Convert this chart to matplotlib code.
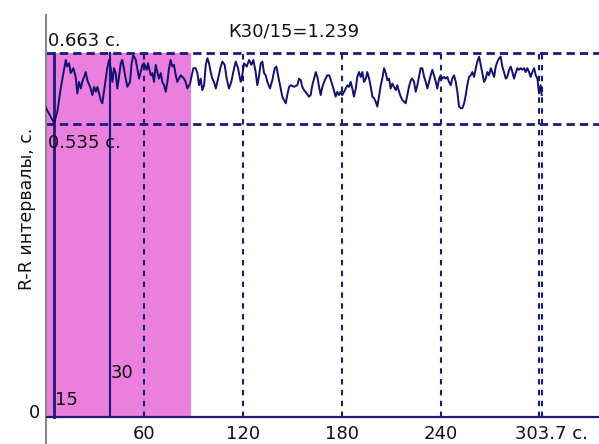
import matplotlib
matplotlib.use("Agg")
import matplotlib.pyplot as plt

# R-R intervals (s), with time (s)
t = [0.0, 5.2, 7.2, 9.2, 11.2, 12.3, 13.2, 14.3, 15.3, 16.9, 18.3, 19.3, 20.3, 21.4, 22.3,
     23.4, 24.4, 25.4, 27.4, 28.4, 29.5, 30.5, 31.5, 33.5, 34.5, 35.5, 36.6, 37.5, 38.6,
     39.6, 40.6, 41.6, 42.6, 43.6, 44.6, 45.7, 46.6, 47.7, 48.7, 49.7, 51.3, 52.3, 53.3,
     54.8, 56.8, 58.8, 59.8, 61.5, 62.2, 63.9, 64.9, 65.9, 66.9, 67.9, 68.9, 70.0, 70.9,
     72.0, 73.0, 74.0, 75.0, 76.0, 77.0, 78.0, 79.1, 80.0, 82.1, 83.1, 84.1, 85.1, 86.1,
     87.8, 88.8, 89.8, 91.2, 92.2, 93.2, 94.2, 95.2, 96.3, 97.3, 98.3, 99.3, 100.3, 101.3,
     102.3, 103.4, 104.8, 106.4, 107.4, 108.8, 110.0, 111.4, 112.8, 114.5, 115.5, 116.9,
     118.5, 119.5, 120.5, 122.2, 123.6, 125.0, 126.2, 127.6, 128.6, 129.7, 130.7, 131.7,
     132.7, 133.7, 134.7, 136.3, 137.7, 139.2, 140.2, 141.2, 142.4, 143.8, 144.8, 145.9,
     146.8, 147.9, 148.9, 150.9, 152.9, 153.9, 155.0, 155.9, 157.0, 158.6, 160.0, 161.0,
     162.0, 163.1, 164.1, 165.1, 166.1, 167.1, 168.1, 169.6, 171.1, 172.3, 173.6, 174.8,
     176.2, 177.2, 178.2, 179.3, 180.2, 181.3, 182.3, 183.3, 184.3, 185.3, 186.3, 187.3,
     188.4, 189.3, 190.4, 191.4, 192.4, 193.4, 194.5, 195.4, 196.5, 197.5, 198.5, 199.5,
     200.5, 201.5, 202.6, 203.6, 204.5, 205.6, 206.6, 207.6, 208.6, 209.6, 210.6, 211.6,
     212.7, 213.6, 214.7, 215.7, 216.7, 217.7, 218.7, 219.7, 220.7, 221.8, 222.7, 223.8,
     224.8, 225.8, 226.8, 227.8, 228.8, 229.9, 230.9, 231.9, 232.9, 233.9, 234.9, 235.9,
     237.0, 237.9, 239.0, 240.0, 241.0, 242.0, 243.0, 244.0, 245.0, 246.1, 247.0, 248.1,
     249.1, 250.1, 251.1, 252.1, 253.1, 254.2, 255.2, 256.1, 257.2, 258.2, 259.2, 260.2,
     261.3, 262.2, 263.3, 264.3, 265.3, 266.3, 267.3, 268.3, 269.3, 270.4, 271.3, 272.4,
     273.4, 274.4, 275.4, 276.4, 277.4, 278.4, 279.5, 280.4, 281.5, 282.5, 283.5, 284.5,
     285.5, 286.5, 287.5, 288.6, 289.5, 290.6, 291.6, 292.6, 293.6, 294.6, 295.6, 296.7,
     297.7, 298.7, 299.7, 300.7, 301.3]
rr = [0.565, 0.536, 0.557, 0.599, 0.633, 0.651, 0.639, 0.645, 0.627, 0.636, 0.620, 0.590,
      0.611, 0.599, 0.611, 0.620, 0.629, 0.614, 0.599, 0.587, 0.602, 0.593, 0.602, 0.578,
      0.572, 0.593, 0.617, 0.636, 0.651, 0.636, 0.611, 0.636, 0.627, 0.599, 0.620, 0.645,
      0.651, 0.633, 0.617, 0.602, 0.611, 0.645, 0.660, 0.651, 0.617, 0.642, 0.645, 0.633,
      0.645, 0.623, 0.627, 0.611, 0.642, 0.629, 0.617, 0.627, 0.611, 0.605, 0.593, 0.611,
      0.636, 0.651, 0.639, 0.642, 0.623, 0.611, 0.623, 0.620, 0.617, 0.611, 0.599, 0.608,
      0.623, 0.636, 0.636, 0.627, 0.605, 0.617, 0.596, 0.605, 0.642, 0.654, 0.645, 0.629,
      0.617, 0.611, 0.599, 0.617, 0.639, 0.648, 0.642, 0.617, 0.599, 0.611, 0.636, 0.648,
      0.636, 0.611, 0.623, 0.645, 0.639, 0.651, 0.642, 0.651, 0.629, 0.605, 0.623, 0.645,
      0.648, 0.627, 0.623, 0.611, 0.599, 0.614, 0.636, 0.639, 0.623, 0.605, 0.584, 0.578,
      0.572, 0.587, 0.602, 0.605, 0.602, 0.605, 0.617, 0.614, 0.602, 0.596, 0.590, 0.584,
      0.587, 0.605, 0.617, 0.629, 0.620, 0.602, 0.587, 0.602, 0.614, 0.623, 0.623, 0.611,
      0.599, 0.584, 0.593, 0.587, 0.593, 0.587, 0.593, 0.599, 0.605, 0.602, 0.611, 0.599,
      0.584, 0.599, 0.620, 0.629, 0.620, 0.629, 0.611, 0.617, 0.629, 0.617, 0.602, 0.584,
      0.581, 0.575, 0.566, 0.587, 0.605, 0.617, 0.636, 0.627, 0.614, 0.617, 0.599, 0.608,
      0.602, 0.596, 0.605, 0.593, 0.584, 0.578, 0.575, 0.572, 0.587, 0.602, 0.614, 0.617,
      0.611, 0.593, 0.605, 0.620, 0.636, 0.636, 0.620, 0.611, 0.599, 0.611, 0.623, 0.633,
      0.623, 0.611, 0.599, 0.617, 0.623, 0.617, 0.620, 0.617, 0.620, 0.611, 0.605, 0.617,
      0.623, 0.611, 0.593, 0.566, 0.563, 0.563, 0.572, 0.587, 0.605, 0.620, 0.623, 0.629,
      0.620, 0.636, 0.648, 0.657, 0.642, 0.627, 0.611, 0.617, 0.629, 0.623, 0.636, 0.629,
      0.620, 0.639, 0.648, 0.654, 0.657, 0.639, 0.629, 0.617, 0.620, 0.633, 0.639, 0.629,
      0.617, 0.627, 0.636, 0.633, 0.636, 0.633, 0.636, 0.629, 0.636, 0.629, 0.620, 0.629,
      0.636, 0.623, 0.617, 0.590, 0.605, 0.587]

rr_max = 0.663
rr_min = 0.535
k_ratio = 1.239
beat15_t = 5.2
beat30_t = 39.4
shade_end = 88.5
grid_t = [60, 120, 180, 240, 299.4, 301.4]
tick_t = [60, 120, 180, 240]
end_label = "303.7 с."

navy = "#1a1a78"
pink = "#ea7fde"

fig = plt.figure(figsize=(5.99, 4.44), dpi=100)
ax = fig.add_axes([0.076, 0.0, 0.924, 0.966])
ax.set_xlim(0, 336.1)
ax.set_ylim(-0.0492, 0.7328)

# shaded first part of the record, from 0 up to the max line
ax.axvspan(0, shade_end, ymin=0.0492 / 0.782, ymax=(rr_max + 0.0492) / 0.782,
           color=pink, lw=0, zorder=0)

ax.axhline(rr_max, color=navy, lw=2, dashes=(3, 1.8), zorder=2)
ax.axhline(rr_min, color=navy, lw=2, dashes=(3, 1.8), zorder=2)
for x in grid_t:
    ax.plot([x, x], [0, rr_max], color=navy, lw=1.5, dashes=(2.6, 2.6), zorder=2)

ax.plot([beat15_t, beat15_t], [0, rr_max], color=navy, lw=2, zorder=3)
ax.plot([beat30_t, beat30_t], [0, rr_max], color=navy, lw=1.5, zorder=3)
ax.axhline(0, color=navy, lw=1.6, zorder=3)

ax.plot(t, rr, color="#12126e", lw=1.4, zorder=4)

font = dict(family="DejaVu Sans", color="#111111")
ax.text(1.5, 0.676, "%.3f с." % rr_max, fontsize=13, **font)
ax.text(1.5, 0.490, "%.3f с." % rr_min, fontsize=13, **font)
ax.text(110.8, 0.693, "К30/15=%.3f" % k_ratio, fontsize=13, **font)
ax.text(beat15_t + 0.3, 0.022, "15", fontsize=13, **font)
ax.text(beat30_t, 0.071, "30", fontsize=13, **font)
for x in tick_t:
    ax.text(x, -0.031, str(x), fontsize=13, ha="center", va="center", **font)
ax.text(285.0, -0.031, end_label, fontsize=13, ha="left", va="center", **font)
ax.text(-3.3, 0.007, "0", fontsize=13, ha="right", va="center", clip_on=False, **font)

fig.text(27 / 599, 1 - 209 / 444, "R-R интервалы, с.", rotation=90, fontsize=12.5,
         ha="center", va="center", **font)

ax.set_xticks([])
ax.set_yticks([])
for s in ["top", "right", "bottom"]:
    ax.spines[s].set_visible(False)
ax.spines["left"].set_color("#8a8a8a")
ax.spines["left"].set_linewidth(1.5)

fig.savefig("out.png", dpi=100)
